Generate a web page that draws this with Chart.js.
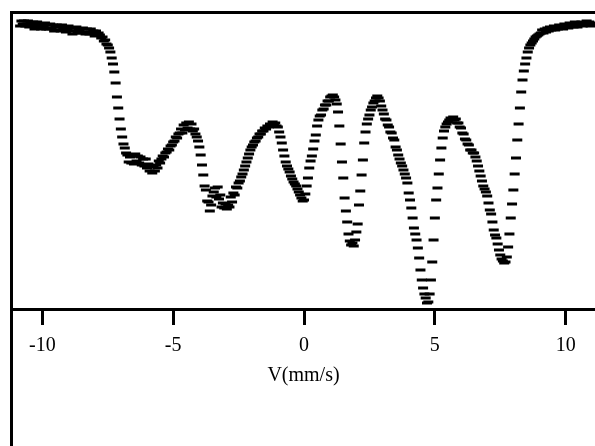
<!DOCTYPE html>
<html>
<head>
<meta charset="utf-8">
<script src="https://cdn.jsdelivr.net/npm/chart.js@4/dist/chart.umd.min.js"></script>
<style>
  html, body { margin: 0; padding: 0; background: #fff; }
  #spectrum { display: block; }
</style>
</head>
<body>
<canvas id="spectrum" width="595" height="446"></canvas>
<script>
// velocity channels: first channel and channel width, mm/s
const V_START = -10.85;
const V_STEP = 0.05;

// relative transmission (%), one value per channel
const TRANSMISSION = [
  99.9, 100.4, 100.1, 100.4, 99.9, 100.1, 100.4, 99.8,
  100.2, 99.9, 100.3, 99.6, 100.1, 100.3, 99.8, 100.0, 99.6, 100.1,
  99.8, 100.2, 99.6, 100.0, 99.6, 100.1, 99.7, 100.0, 99.4, 99.8,
  100.0, 99.5, 99.8, 99.4, 100.0, 99.6, 99.8, 99.3, 99.6, 99.9,
  99.4, 99.7, 99.1, 99.7, 99.4, 99.8, 99.2, 99.5, 99.6, 99.2,
  99.7, 99.3, 99.1, 99.6, 99.3, 99.1, 99.6, 99.2, 99.4, 98.9,
  99.4, 99.0, 99.2, 99.0, 98.7, 98.8, 98.4, 98.5, 98.1, 98.0,
  97.7, 97.3, 96.7, 96.1, 95.3, 94.2, 92.8, 91.7, 90.6, 89.6,
  88.8, 88.1, 87.7, 87.2, 87.0, 86.3, 86.8, 86.2, 86.9, 86.1,
  87.1, 86.4, 86.9, 86.2, 86.8, 86.0, 86.6, 85.9, 86.6, 85.7,
  86.1, 85.4, 85.9, 85.2, 85.8, 85.4, 86.0, 85.7, 86.4, 86.2,
  86.6, 86.9, 86.8, 87.2, 87.3, 87.6, 87.5, 87.9, 88.0, 88.3,
  88.4, 88.8, 88.7, 89.1, 89.2, 89.6, 89.2, 90.0, 89.5, 90.2,
  89.7, 90.3, 89.6, 90.1, 89.4, 89.6, 89.1, 88.8, 88.4, 87.8,
  87.0, 86.0, 85.0, 83.9, 83.5, 82.4, 82.3, 81.4, 82.0, 82.9,
  83.3, 83.7, 82.8, 83.8, 82.6, 83.0, 81.8, 82.2, 81.7, 82.1,
  81.6, 82.0, 81.8, 82.8, 82.3, 83.2, 83.0, 83.8, 83.7, 84.2,
  84.4, 84.8, 85.1, 85.5, 85.9, 86.3, 86.7, 87.1, 87.5, 87.8,
  88.0, 88.3, 88.4, 88.7, 88.8, 89.1, 89.1, 89.4, 89.4, 89.7,
  89.6, 89.9, 89.8, 90.1, 90.0, 90.3, 90.0, 90.2, 89.9, 89.8,
  89.3, 88.8, 88.2, 87.5, 86.9, 86.3, 85.9, 85.6, 85.3, 84.9,
  84.6, 84.3, 84.1, 83.9, 83.6, 83.3, 83.0, 82.7, 82.4, 82.5,
  83.1, 83.9, 84.7, 85.7, 86.4, 86.9, 87.6, 88.4, 89.0, 89.9,
  90.5, 90.9, 91.0, 91.5, 91.6, 92.0, 92.0, 92.4, 92.4, 92.8,
  92.9, 93.0, 92.8, 92.5, 92.1, 91.3, 89.9, 88.1, 86.3, 84.7,
  82.7, 81.4, 80.3, 79.1, 78.4, 78.0, 78.2, 77.9, 78.5, 79.3,
  80.1, 82.0, 83.4, 85.0, 86.5, 88.2, 89.3, 90.1, 90.6, 91.0,
  91.5, 91.8, 92.2, 92.4, 92.7, 92.9, 92.7, 92.4, 91.9, 91.5,
  91.1, 90.6, 90.5, 90.0, 89.8, 89.3, 89.2, 88.7, 88.5, 87.8,
  87.5, 87.0, 86.6, 86.2, 85.9, 85.5, 85.1, 84.7, 84.2, 83.2,
  82.5, 81.7, 80.7, 79.7, 79.1, 78.5, 77.7, 76.7, 75.5, 74.5,
  73.7, 73.1, 72.7, 72.2, 72.3, 73.1, 74.5, 76.3, 78.5, 80.7,
  82.5, 83.7, 85.1, 86.5, 87.7, 88.7, 89.4, 89.8, 90.1, 90.3,
  90.5, 90.7, 90.5, 90.8, 90.5, 90.6, 90.2, 90.2, 89.8, 89.7,
  89.2, 89.1, 88.6, 88.5, 88.1, 88.0, 87.5, 87.5, 87.2, 87.2,
  86.8, 86.4, 85.9, 85.4, 84.9, 84.4, 83.9, 83.6, 83.3, 82.9,
  82.2, 81.5, 81.1, 80.3, 79.5, 79.0, 78.7, 78.1, 77.5, 77.0,
  76.6, 76.4, 76.2, 76.3, 76.8, 77.8, 79.1, 80.7, 82.1, 83.5,
  85.1, 86.7, 88.5, 90.1, 91.7, 93.3, 94.5, 95.4, 96.1, 96.7,
  97.3, 97.7, 98.0, 98.2, 98.4, 98.6, 98.8, 98.9, 99.0, 99.1,
  99.2, 99.5, 99.2, 99.6, 99.3, 99.7, 99.4, 99.8, 99.5, 99.6,
  99.9, 99.5, 99.8, 99.6, 100.0, 99.7, 99.9, 99.6, 100.1, 99.8,
  100.0, 99.7, 100.2, 99.9, 100.1, 99.8, 100.3, 100.0, 99.8, 100.2,
  100.0, 100.3, 99.9, 100.2, 100.1, 100.4, 100.0, 100.3, 99.9, 100.2, 100.1
];

const X_TICKS = [-10, -5, 0, 5, 10];
const X_TITLE = "V(mm/s)";
const X_MIN = -11.16, X_MAX = 11.12;
const Y_MIN = 71.6, Y_MAX = 101.3;

const FONT = "'Liberation Serif', 'Times New Roman', serif";

const points = TRANSMISSION.map((t, k) => ({ x: +(V_START + k * V_STEP).toFixed(3), y: t }));

// open frame: top edge and left edge running down to the bottom of the page
const frame = {
  id: "frame",
  afterDraw(chart) {
    const { ctx, chartArea: a, width, height } = chart;
    ctx.save();
    ctx.strokeStyle = "#000";
    ctx.lineWidth = 3;
    ctx.beginPath();
    ctx.moveTo(a.left - 2, a.top + 0.5);
    ctx.lineTo(width, a.top + 0.5);
    ctx.moveTo(a.left - 0.5, a.top - 1);
    ctx.lineTo(a.left - 0.5, height);
    ctx.stroke();
    ctx.restore();
  }
};

new Chart(document.getElementById("spectrum").getContext("2d"), {
  type: "scatter",
  data: {
    datasets: [{
      data: points,
      showLine: false,
      pointStyle: "line",
      pointRadius: 5,
      pointBorderWidth: 3,
      borderColor: "#000",
      backgroundColor: "#000"
    }]
  },
  options: {
    responsive: false,
    animation: false,
    layout: { autoPadding: false, padding: { left: 12, top: 12, right: 0, bottom: 0 } },
    plugins: { legend: { display: false }, tooltip: { enabled: false } },
    scales: {
      x: {
        type: "linear",
        min: X_MIN, max: X_MAX,
        afterBuildTicks: (s) => { s.ticks = X_TICKS.map(v => ({ value: v })); },
        afterFit: (s) => { s.height = 137; },
        border: { display: true, width: 3, color: "#000" },
        grid: { drawOnChartArea: false, drawTicks: true, tickLength: 16, tickWidth: 3, tickColor: "#000" },
        ticks: { color: "#000", padding: 9, font: { family: FONT, size: 20 } },
        title: {
          display: true, text: X_TITLE, color: "#000",
          font: { family: FONT, size: 20 },
          padding: { top: 4, bottom: 58 }
        }
      },
      y: { display: false, min: Y_MIN, max: Y_MAX }
    }
  },
  plugins: [frame]
});
</script>
</body>
</html>
